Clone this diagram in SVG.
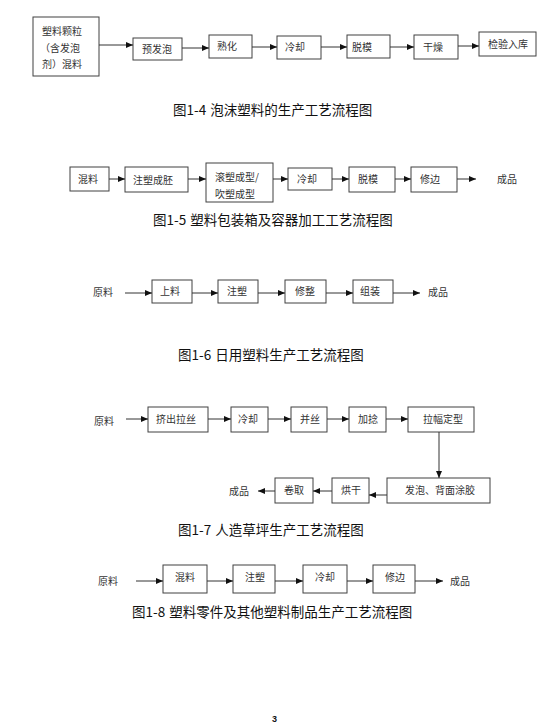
<svg xmlns="http://www.w3.org/2000/svg" width="560" height="727" viewBox="0 0 560 727">
<style>
.b{fill:#fff;stroke:#404040;stroke-width:1}
.t{font-family:"Noto Sans CJK SC","Liberation Sans",sans-serif;font-size:10px;fill:#333}
.h{font-family:"Noto Sans CJK SC","Liberation Sans",sans-serif;font-size:13.5px;fill:#111}
.c line{stroke:#333;stroke-width:1;marker-end:url(#a)}
</style>
<defs><marker id="a" markerUnits="userSpaceOnUse" markerWidth="7" markerHeight="6" refX="7" refY="3" orient="auto"><path d="M0,0 L7,3 L0,6 z" fill="#111"/></marker></defs>
<rect width="560" height="727" fill="#fff"/>

<g id="f14">
<g id="n14a"><rect class="b" x="33" y="17" width="66" height="59"/><text class="t" x="42" y="35">塑料颗粒</text><text class="t" x="40" y="52">（含发泡</text><text class="t" x="42" y="68">剂）混料</text></g>
<g id="n14b"><rect class="b" x="133" y="38" width="49" height="22"/><text class="t" x="142" y="53">预发泡</text></g>
<g id="n14c"><rect class="b" x="209" y="35" width="43" height="23"/><text class="t" x="217" y="50">熟化</text></g>
<g id="n14d"><rect class="b" x="277" y="36" width="44" height="23"/><text class="t" x="285" y="51">冷却</text></g>
<g id="n14e"><rect class="b" x="347" y="35" width="43" height="23"/><text class="t" x="352" y="51">脱模</text></g>
<g id="n14f"><rect class="b" x="414" y="35" width="44" height="24"/><text class="t" x="423" y="51">干燥</text></g>
<g id="n14g"><rect class="b" x="479" y="32" width="57" height="24"/><text class="t" x="488" y="48">检验入库</text></g>
<text class="h" x="173" y="115">图1-4<tspan dx="4">泡沫塑料的生产工艺流程图</tspan></text>
</g>

<g id="f15">
<g id="n15a"><rect class="b" x="70" y="167" width="39" height="24"/><text class="t" x="78" y="183">混料</text></g>
<g id="n15b"><rect class="b" x="125" y="167" width="63" height="25"/><text class="t" x="133" y="184">注塑成胚</text></g>
<g id="n15c"><rect class="b" x="206" y="163" width="67" height="39"/><text class="t" x="215" y="181">滚塑成型/</text><text class="t" x="215" y="198">吹塑成型</text></g>
<g id="n15d"><rect class="b" x="288" y="168" width="44" height="22"/><text class="t" x="297" y="183">冷却</text></g>
<g id="n15e"><rect class="b" x="349" y="167" width="46" height="25"/><text class="t" x="358" y="183">脱模</text></g>
<g id="n15f"><rect class="b" x="411" y="167" width="46" height="25"/><text class="t" x="420" y="183">修边</text></g>
<text class="t" x="497" y="183">成品</text>
<text class="h" x="153" y="225">图1-5<tspan dx="4">塑料包装箱及容器加工工艺流程图</tspan></text>
</g>

<g id="f16">
<text class="t" x="93" y="296">原料</text>
<g id="n16a"><rect class="b" x="152" y="280" width="40" height="23"/><text class="t" x="160" y="295">上料</text></g>
<g id="n16b"><rect class="b" x="218" y="280" width="40" height="23"/><text class="t" x="227" y="295">注塑</text></g>
<g id="n16c"><rect class="b" x="285" y="280" width="41" height="23"/><text class="t" x="295" y="295">修整</text></g>
<g id="n16d"><rect class="b" x="353" y="280" width="40" height="23"/><text class="t" x="360" y="295">组装</text></g>
<text class="t" x="428" y="296">成品</text>
<text class="h" x="178" y="360">图1-6<tspan dx="4">日用塑料生产工艺流程图</tspan></text>
</g>

<g id="f17">
<text class="t" x="94" y="425">原料</text>
<g id="n17a"><rect class="b" x="148" y="407" width="60" height="25"/><text class="t" x="156" y="423">挤出拉丝</text></g>
<g id="n17b"><rect class="b" x="231" y="407" width="37" height="25"/><text class="t" x="238" y="423">冷却</text></g>
<g id="n17c"><rect class="b" x="291" y="407" width="36" height="25"/><text class="t" x="300" y="423">并丝</text></g>
<g id="n17d"><rect class="b" x="349" y="407" width="37" height="25"/><text class="t" x="358" y="423">加捻</text></g>
<g id="n17e"><rect class="b" x="408" y="407" width="66" height="25"/><text class="t" x="423" y="423">拉幅定型</text></g>
<g id="n17f"><rect class="b" x="387" y="478" width="103" height="25"/><text class="t" x="405" y="494">发泡、背面涂胶</text></g>
<g id="n17g"><rect class="b" x="332" y="478" width="37" height="25"/><text class="t" x="341" y="494">烘干</text></g>
<g id="n17h"><rect class="b" x="275" y="478" width="38" height="25"/><text class="t" x="284" y="494">卷取</text></g>
<text class="t" x="229" y="495">成品</text>
<text class="h" x="178" y="535">图1-7<tspan dx="4">人造草坪生产工艺流程图</tspan></text>
</g>

<g id="f18">
<text class="t" x="98" y="585">原料</text>
<g id="n18a"><rect class="b" x="163" y="565" width="44" height="28"/><text class="t" x="175" y="581">混料</text></g>
<g id="n18b"><rect class="b" x="233" y="565" width="42" height="28"/><text class="t" x="245" y="581">注塑</text></g>
<g id="n18c"><rect class="b" x="303" y="565" width="44" height="28"/><text class="t" x="315" y="581">冷却</text></g>
<g id="n18d"><rect class="b" x="373" y="565" width="42" height="28"/><text class="t" x="385" y="581">修边</text></g>
<text class="t" x="450" y="585">成品</text>
<text class="h" x="132" y="617">图1-8<tspan dx="4">塑料零件及其他塑料制品生产工艺流程图</tspan></text>
</g>

<text x="272" y="722" style="font-family:'Liberation Sans',sans-serif;font-size:9px;font-weight:bold;fill:#111">3</text>

<g id="connectors" class="c">
<line x1="99" y1="45" x2="133" y2="45"/>
<line x1="182" y1="48" x2="209" y2="48"/>
<line x1="252" y1="47" x2="277" y2="47"/>
<line x1="321" y1="47" x2="347" y2="47"/>
<line x1="390" y1="47" x2="414" y2="47"/>
<line x1="458" y1="46" x2="479" y2="46"/>

<line x1="109" y1="179" x2="125" y2="179"/>
<line x1="188" y1="179" x2="206" y2="179"/>
<line x1="273" y1="179" x2="288" y2="179"/>
<line x1="332" y1="179" x2="349" y2="179"/>
<line x1="395" y1="179" x2="411" y2="179"/>
<line x1="457" y1="179" x2="476" y2="179"/>

<line x1="125" y1="293" x2="152" y2="293"/>
<line x1="192" y1="293" x2="218" y2="293"/>
<line x1="258" y1="293" x2="285" y2="293"/>
<line x1="326" y1="293" x2="353" y2="293"/>
<line x1="393" y1="293" x2="420" y2="293"/>

<line x1="126" y1="419" x2="148" y2="419"/>
<line x1="208" y1="419" x2="231" y2="419"/>
<line x1="268" y1="419" x2="291" y2="419"/>
<line x1="327" y1="419" x2="349" y2="419"/>
<line x1="386" y1="419" x2="408" y2="419"/>
<line x1="439" y1="432" x2="439" y2="478"/>
<line x1="387" y1="495" x2="369" y2="495"/>
<line x1="332" y1="491" x2="313" y2="491"/>
<line x1="275" y1="491" x2="258" y2="491"/>

<line x1="136" y1="581" x2="163" y2="581"/>
<line x1="207" y1="581" x2="233" y2="581"/>
<line x1="275" y1="581" x2="303" y2="581"/>
<line x1="347" y1="581" x2="373" y2="581"/>
<line x1="415" y1="581" x2="443" y2="581"/>
</g>
</svg>
